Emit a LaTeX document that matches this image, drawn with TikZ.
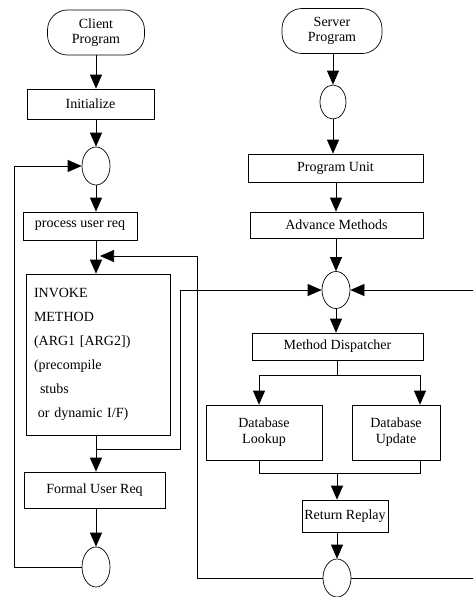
\documentclass[tikz,border=0pt]{standalone}
\usepackage{fontspec}
\setmainfont{Liberation Serif}
\usetikzlibrary{arrows.meta, shapes.geometric}

\begin{document}
\begin{tikzpicture}[x=10pt, y=-10pt, line width=0.7pt,
          box/.style={rectangle, draw, inner sep=2pt, font=\fontsize{14}{16}\selectfont},
          term/.style={rectangle, draw, rounded corners=20pt, align=center, font=\fontsize{14}{15}\selectfont},
          junc/.style={ellipse, draw, inner sep=0pt, minimum width=28pt, minimum height=38pt},
          arr/.style={-{Triangle[length=14pt, width=12pt]}}]
          \useasboundingbox (0,0) rectangle (47.3,59.7);

          % client program
          \node[term, minimum width=97pt, minimum height=45pt] (cprog) at (9.6,3.25) {Client\\Program};
          \node[box, minimum width=127pt, minimum height=30pt] (init) at (9.05,10.4) {Initialize};
          \node[junc] (c1) at (9.6,16.6) {};
          \node[box, minimum width=114pt, minimum height=28pt] (proc) at (8.0,22.6) {process user req};
          \node[box, minimum width=144pt, minimum height=161pt, text width=128pt, align=left,
                font=\fontsize{14}{24}\selectfont] (invoke) at (9.8,35.45)
                {INVOKE\\METHOD\\(ARG1 [ARG2])\\(precompile\\\hspace*{6pt}stubs\\\hspace*{4pt}or dynamic I/F)};
          \node[box, minimum width=141pt, minimum height=36pt] (fur) at (9.45,49.0) {Formal User Req};
          \node[junc, minimum height=40pt] (c2) at (9.6,56.7) {};

          % server program
          \node[term, minimum width=100pt, minimum height=45pt] (sprog) at (33.2,3.1) {Server\\Program};
          \node[junc, minimum width=26pt, minimum height=34pt] (s1) at (33.3,10.2) {};
          \node[box, minimum width=175pt, minimum height=28pt] (punit) at (33.55,16.8) {Program Unit};
          \node[box, minimum width=173pt, minimum height=26pt] (adv) at (33.65,22.5) {Advance Methods};
          \node[junc, minimum height=37pt] (s3) at (33.6,29.0) {};
          \node[box, minimum width=171pt, minimum height=27pt] (mdisp) at (33.75,34.65) {Method Dispatcher};
          \node[box, minimum width=116pt, minimum height=55pt, align=center] (dblook) at (26.4,43.25) {Database\\Lookup};
          \node[box, minimum width=88pt, minimum height=55pt, align=center] (dbupd) at (39.6,43.25) {Database\\Update};
          \node[box, minimum width=86pt, minimum height=32pt] (rret) at (34.5,51.6) {Return Replay};
          \node[junc] (s4) at (33.7,57.8) {};

          \coordinate (loopX) at (1.4,0);
          \coordinate (reqA) at (9.6,44.9);
          \coordinate (reqX) at (18.0,0);
          \coordinate (repTip) at (10.0,25.6);
          \coordinate (repX) at (19.7,0);
          \coordinate (brL) at (25.9,37.5);
          \coordinate (brR) at (42.0,37.5);
          \coordinate (jL) at (25.9,47.3);
          \coordinate (jR) at (42.0,47.3);
          \coordinate (jM) at (33.7,47.3);
          \coordinate (rIn) at (47.3,29.0);
          \coordinate (rOut) at (47.3,57.8);

          % client flow
          \draw[arr] (cprog.south) -- (cprog.south |- init.north);
          \draw[arr] (c1.north |- init.south) -- (c1.north);
          \draw[arr] (c1.south) -- (c1.south |- proc.north);
          \draw[arr] (c1.south |- proc.south) -- (c1.south |- invoke.north);
          \draw[arr] (c1.south |- invoke.south) -- (c1.south |- fur.north);
          \draw[arr] (c1.south |- fur.south) -- (c2.north);
          \draw[arr] (c2.west) -- (c2.west -| loopX) -- (c1.west -| loopX) -- (c1.west);

          % server flow
          \draw[arr] (s1.north |- sprog.south) -- (s1.north);
          \draw[arr] (s1.south) -- (s1.south |- punit.north);
          \draw[arr] (s3.north |- punit.south) -- (s3.north |- adv.north);
          \draw[arr] (s3.north |- adv.south) -- (s3.north);
          \draw[arr] (s3.south) -- (s3.south |- mdisp.north);
          \draw (mdisp.south) -- (mdisp.south |- brL);
          \draw (brL) -- (brR);
          \draw[arr] (brL) -- (brL |- dblook.north);
          \draw[arr] (brR) -- (brR |- dbupd.north);
          \draw (brL |- dblook.south) -- (jL) -- (jR) -- (brR |- dbupd.south);
          \draw[arr] (jM) -- (jM |- rret.north);
          \draw[arr] (jM |- rret.south) -- (s4.north);
          \draw[arr] (rIn) -- (s3.east);
          \draw (s4.east) -- (rOut);

          % request and reply
          \draw[arr] (reqA) -| (reqX |- s3.west) -- (s3.west);
          \draw[arr] (s4.west) -| (repX |- repTip) -- (repTip);
        \end{tikzpicture}
\end{document}
